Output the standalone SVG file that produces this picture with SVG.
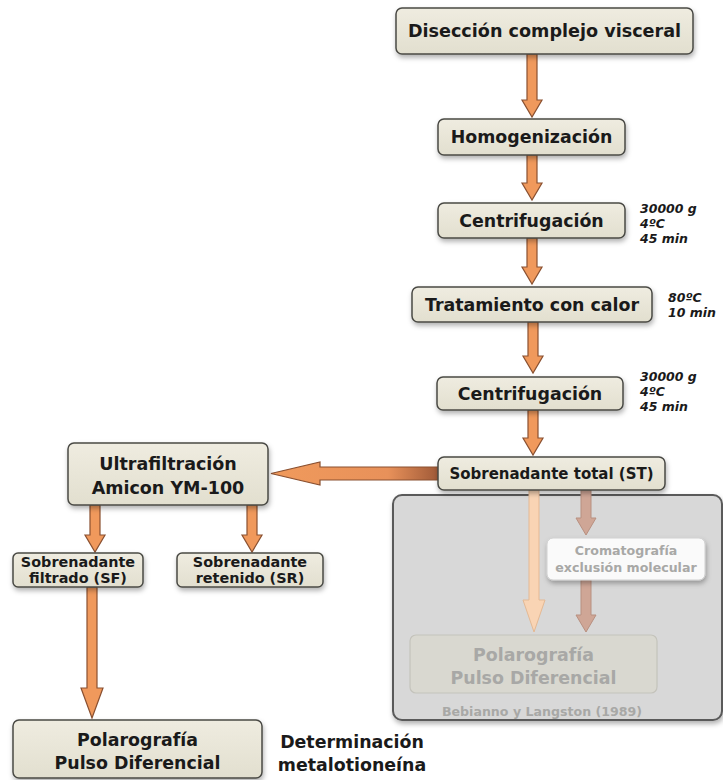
<svg xmlns="http://www.w3.org/2000/svg" width="723" height="780" viewBox="0 0 723 780">
<defs>
<filter id="sh" x="-10%" y="-20%" width="120%" height="150%">
<feDropShadow dx="1" dy="3" stdDeviation="2.5" flood-color="#000" flood-opacity="0.3"/>
</filter>
<linearGradient id="bx" x1="0" y1="0" x2="0" y2="1">
<stop offset="0" stop-color="#efece0"/>
<stop offset="1" stop-color="#e2dfcf"/>
</linearGradient>
<linearGradient id="harrow" x1="0" y1="0" x2="1" y2="0">
<stop offset="0" stop-color="#f09a5c"/>
<stop offset="0.7" stop-color="#e8915a"/>
<stop offset="1" stop-color="#a05a38"/>
</linearGradient>
</defs>
<style>
.box{fill:url(#bx);stroke:#4a4a44;stroke-width:1.5;filter:url(#sh)}
.t{font-family:"DejaVu Sans",Verdana,sans-serif;font-weight:bold;fill:#1a1a1a;text-anchor:middle}
.side{font-family:"DejaVu Sans",Verdana,sans-serif;font-weight:bold;font-style:italic;font-size:12.5px;fill:#1a1a1a}
.arr{fill:#f0995c;stroke:#8a5030;stroke-width:1.2;stroke-linejoin:miter}
.fade{fill:#a8a8a6;font-family:"DejaVu Sans",Verdana,sans-serif;font-weight:bold;text-anchor:middle}
</style>

<g id="panel">
<rect x="393" y="495" width="329" height="225" rx="9" fill="#d8d8d8" stroke="#5a5a5a" stroke-width="2" filter="url(#sh)"/>
</g>

<g id="connectors">
<polygon class="arr" points="527,54 537,54 537,100 542,100 532,117 522,100 527,100"/>
<polygon class="arr" points="527,155 537,155 537,183 542,183 532,200 522,183 527,183"/>
<polygon class="arr" points="527,238 537,238 537,267 542,267 532,284 522,267 527,267"/>
<polygon class="arr" points="528,322 538,322 538,356 543,356 533,373 523,356 528,356"/>
<polygon class="arr" points="528,410 538,410 538,438 543,438 533,455 523,438 528,438"/>
<polygon points="438,467 320,467 320,462 271,473.5 320,485 320,480 438,480" fill="url(#harrow)" stroke="#8a5030" stroke-width="1.2"/>
<polygon class="arr" points="90,505 100,505 100,535 105,535 95,552 85,535 90,535"/>
<polygon class="arr" points="247,505 257,505 257,535 262,535 252,552 242,535 247,535"/>
<polygon class="arr" points="87,587 97,587 97,688 103,688 92,718 81,688 87,688"/>
<polygon points="529,490 539,490 539,600 545,600 534,632 523,600 529,600" fill="#f9d4b4" stroke="#e4b994" stroke-width="1"/>
<polygon points="581,490 591,490 591,518 596,518 586,535 576,518 581,518" fill="#cfa696" stroke="#b89080" stroke-width="1"/>
<polygon points="581,580 591,580 591,615 596,615 586,632 576,615 581,615" fill="#cfa696" stroke="#b89080" stroke-width="1"/>
</g>

<g id="n1"><rect class="box" x="396" y="8" width="297" height="46" rx="6"/>
<text class="t" x="544.5" y="37" font-size="17.6">Disección complejo visceral</text></g>

<g id="n2"><rect class="box" x="438" y="119" width="187" height="36" rx="6"/>
<text class="t" x="531.5" y="143" font-size="17.4">Homogenización</text></g>

<g id="n3"><rect class="box" x="438" y="203" width="187" height="35" rx="6"/>
<text class="t" x="531.5" y="227" font-size="17.4">Centrifugación</text>
<text class="side" x="640" y="213">30000 g</text>
<text class="side" x="640" y="228">4ºC</text>
<text class="side" x="640" y="243">45 min</text></g>

<g id="n4"><rect class="box" x="412" y="287" width="240" height="35" rx="6"/>
<text class="t" x="532" y="311" font-size="17.4">Tratamiento con calor</text>
<text class="side" x="668" y="302">80ºC</text>
<text class="side" x="668" y="317">10 min</text></g>

<g id="n5"><rect class="box" x="437" y="377" width="186" height="33" rx="6"/>
<text class="t" x="530" y="400" font-size="17.4">Centrifugación</text>
<text class="side" x="640" y="381">30000 g</text>
<text class="side" x="640" y="396">4ºC</text>
<text class="side" x="640" y="411">45 min</text></g>

<g id="n6"><rect class="box" x="438" y="457" width="227" height="33" rx="6"/>
<text class="t" x="551.5" y="479" font-size="15">Sobrenadante total (ST)</text></g>

<g id="n7"><rect class="box" x="68" y="443" width="200" height="62" rx="6"/>
<text class="t" x="168" y="470" font-size="17.5">Ultrafiltración</text>
<text class="t" x="168" y="494" font-size="17.5">Amicon YM-100</text></g>

<g id="n8"><rect class="box" x="13" y="553" width="130" height="34" rx="5"/>
<text class="t" x="78" y="567" font-size="14.4">Sobrenadante</text>
<text class="t" x="78" y="583" font-size="14.4">filtrado (SF)</text></g>

<g id="n9"><rect class="box" x="177" y="553" width="146" height="34" rx="5"/>
<text class="t" x="250" y="567" font-size="14.4">Sobrenadante</text>
<text class="t" x="250" y="583" font-size="14.4">retenido (SR)</text></g>

<g id="n10"><rect class="box" x="13" y="720" width="249" height="58" rx="6"/>
<text class="t" x="137.5" y="746" font-size="17.4">Polarografía</text>
<text class="t" x="137.5" y="769" font-size="17.4">Pulso Diferencial</text></g>

<g id="n11">
<text class="t" x="352" y="748" font-size="17.4">Determinación</text>
<text class="t" x="352" y="771" font-size="17.4">metalotioneína</text></g>

<g id="n12"><rect x="547" y="538" width="158" height="42" rx="6" fill="#fafafa" stroke="#d0d0d0" stroke-width="1" filter="url(#sh)"/>
<text class="fade" x="626" y="555" font-size="12.6">Cromatografía</text>
<text class="fade" x="626" y="572" font-size="12.6">exclusión molecular</text></g>

<g id="n13"><rect x="410" y="635" width="247" height="58" rx="6" fill="#d9d8d0" stroke="#c4c3bb" stroke-width="1.2"/>
<text class="fade" x="533.5" y="661" font-size="17.4">Polarografía</text>
<text class="fade" x="533.5" y="684" font-size="17.4">Pulso Diferencial</text>
<text class="fade" x="542" y="716" font-size="12.6" fill="#b0b0b0">Bebianno y Langston (1989)</text></g>
</svg>
